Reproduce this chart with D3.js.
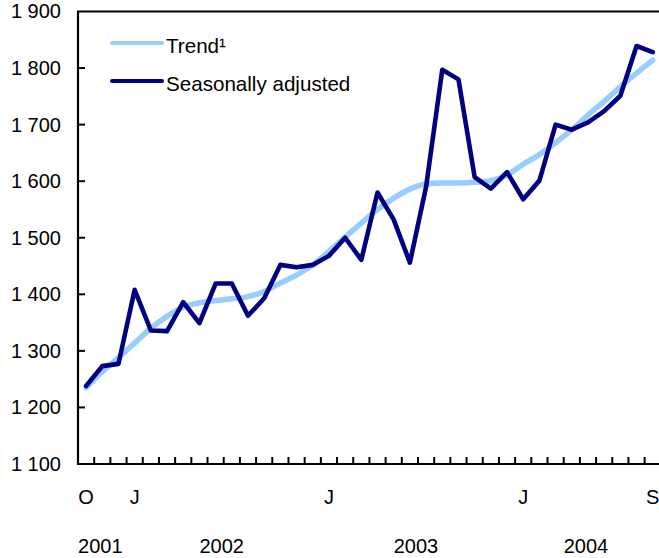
<!DOCTYPE html>
<html>
<head>
<meta charset="utf-8">
<script src="https://cdn.jsdelivr.net/npm/d3@7"></script>
<style>
  html, body { margin: 0; padding: 0; background: #fff; }
  svg { display: block; }
  text { font-family: "Liberation Sans", Arial, Helvetica, sans-serif; fill: #000; }
</style>
</head>
<body>
<svg id="chart" width="659" height="558"></svg>
<script>
// ---- Data (Oct 2001 – Sep 2004, monthly) ----
const months = ["2001-10","2001-11","2001-12",
  "2002-01","2002-02","2002-03","2002-04","2002-05","2002-06","2002-07","2002-08","2002-09","2002-10","2002-11","2002-12",
  "2003-01","2003-02","2003-03","2003-04","2003-05","2003-06","2003-07","2003-08","2003-09","2003-10","2003-11","2003-12",
  "2004-01","2004-02","2004-03","2004-04","2004-05","2004-06","2004-07","2004-08","2004-09"];

const seasonallyAdjusted = [1238,1273,1277,
  1408,1336,1335,1386,1349,1419,1419,1362,1393,1452,1448,1452,
  1468,1500,1461,1580,1532,1456,1590,1797,1780,1607,1587,1616,
  1568,1601,1700,1691,1704,1724,1751,1839,1828];

const trend = [1235,1263,1288,
  1314,1340,1361,1377,1385,1389,1392,1396,1405,1420,1434,1452,
  1476,1501,1526,1550,1570,1586,1595,1597,1597,1598,1601,1611,
  1630,1647,1668,1691,1717,1741,1767,1791,1814];

const monthTickLabels = [
  {month: "2001-10", label: "O"},
  {month: "2002-01", label: "J"},
  {month: "2003-01", label: "J"},
  {month: "2004-01", label: "J"},
  {month: "2004-09", label: "S"}
];
const years = ["2001","2002","2003","2004"];
const yTicks = [1100,1200,1300,1400,1500,1600,1700,1800,1900];
const legendItems = [
  {key: "trend", label: "Trend¹"},
  {key: "sa", label: "Seasonally adjusted"}
];

// ---- Layout ----
const plotLeft = 78, plotTop = 11.5, plotBottom = 464;
const step = 16.19;
const plotRight = plotLeft + months.length * step;
const colors = {trend: "#99ccff", sa: "#000080"};

const svg = d3.select("#chart");

const x = d3.scaleBand().domain(months).range([plotLeft, plotRight]).padding(0);
const xc = m => x(m) + x.bandwidth() / 2;
const y = d3.scaleLinear().domain([1100, 1900]).range([plotBottom, plotTop]);

const locale = d3.formatLocale({decimal: ".", thousands: "\u00a0", grouping: [3], currency: ["", ""]});
const fmt = locale.format(",d");

// Y axis labels (via d3 axis)
const yAxis = d3.axisLeft(y).tickValues(yTicks).tickFormat(fmt).tickSize(0).tickPadding(17);
const gy = svg.append("g").attr("transform", `translate(${plotLeft},0)`).call(yAxis);
gy.select(".domain").remove();
gy.selectAll("text").attr("font-size", 20).attr("font-family", "Liberation Sans, Arial, sans-serif").attr("fill", "#000");
// inner ticks
svg.append("g").selectAll("line").data(yTicks.slice(1, -1)).join("line")
  .attr("x1", plotLeft).attr("x2", plotLeft + 7)
  .attr("y1", d => y(d)).attr("y2", d => y(d))
  .attr("stroke", "#000").attr("stroke-width", 2);

// X ticks at month boundaries
svg.append("g").selectAll("line").data(months.slice(1)).join("line")
  .attr("x1", d => x(d)).attr("x2", d => x(d))
  .attr("y1", plotBottom).attr("y2", plotBottom - 7)
  .attr("stroke", "#000").attr("stroke-width", 2);

// Frame: left, bottom, top
svg.append("path")
  .attr("d", `M${plotRight},${plotTop}H${plotLeft}V${plotBottom}H${plotRight}`)
  .attr("fill", "none").attr("stroke", "#000").attr("stroke-width", 2.2);

// Month labels
svg.append("g").selectAll("text").data(monthTickLabels).join("text")
  .attr("x", d => xc(d.month)).attr("y", 504)
  .attr("text-anchor", "middle").attr("font-size", 20)
  .text(d => d.label);

// Year labels centered over their span of months
svg.append("g").selectAll("text").data(years).join("text")
  .attr("x", yr => {
    const ms = months.filter(m => m.startsWith(yr));
    return (x(ms[0]) + x(ms[ms.length - 1]) + x.bandwidth()) / 2 - 2;
  })
  .attr("y", 553)
  .attr("text-anchor", "middle").attr("font-size", 20)
  .text(d => d);

// Clip to plot
svg.append("clipPath").attr("id", "clip").append("rect")
  .attr("x", plotLeft).attr("y", plotTop).attr("width", plotRight - plotLeft).attr("height", plotBottom - plotTop);

const plot = svg.append("g").attr("clip-path", "url(#clip)");

const trendLine = d3.line().x((d, i) => xc(months[i])).y(d => y(d)).curve(d3.curveMonotoneX);
const saLine = d3.line().x((d, i) => xc(months[i])).y(d => y(d)).curve(d3.curveLinear);

plot.append("path").datum(trend)
  .attr("d", trendLine).attr("fill", "none")
  .attr("stroke", colors.trend).attr("stroke-width", 5.5)
  .attr("stroke-linecap", "round").attr("stroke-linejoin", "round");

plot.append("path").datum(seasonallyAdjusted)
  .attr("d", saLine).attr("fill", "none")
  .attr("stroke", colors.sa).attr("stroke-width", 4.6)
  .attr("stroke-linecap", "round").attr("stroke-linejoin", "round");

// Legend
const lg = svg.append("g").selectAll("g").data(legendItems).join("g")
  .attr("transform", (d, i) => `translate(0,${43 + i * 38})`);
lg.append("line").attr("x1", 112).attr("x2", 162).attr("y1", 0).attr("y2", 0)
  .attr("stroke", d => colors[d.key]).attr("stroke-width", 4).attr("stroke-linecap", "round");
lg.append("text").attr("x", 166).attr("y", 10).attr("font-size", 20.6).text(d => d.label);
</script>
</body>
</html>
